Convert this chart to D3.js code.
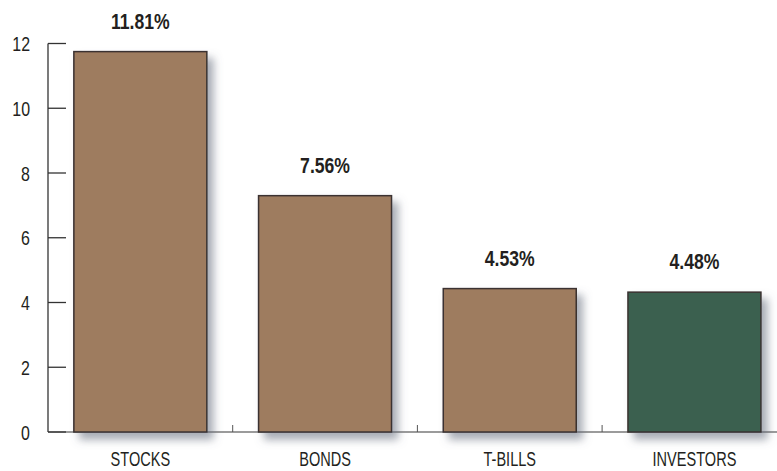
<!DOCTYPE html>
<html>
<head>
<meta charset="utf-8">
<script src="https://cdn.jsdelivr.net/npm/d3@7"></script>
<style>
    body { margin: 0; background: #fff; }
    svg text { font-family: "Liberation Sans", Arial, sans-serif; fill: #231f20; }
    .tickLabel { font-size: 21px; }
    .catLabel { font-size: 20.5px; }
    .valueLabel { font-size: 22px; font-weight: bold; }
</style>
</head>
<body>
<div id="chart"></div>
<script>
const categories = ["STOCKS", "BONDS", "T-BILLS", "INVESTORS"]
// bar heights as drawn in the picture
const barValues = [11.75, 7.30, 4.43, 4.32]
// the printed labels above the bars
const valueLabels = ["11.81%", "7.56%", "4.53%", "4.48%"]
const barColors = ["#9e7b5f", "#9e7b5f", "#9e7b5f", "#3a6150"]
const yTicks = [0, 2, 4, 6, 8, 10, 12]

const width = 777
const height = 471
const margin = { left: 48, top: 43.5, bottom: 39 }

const svg = d3.select("#chart").append("svg")
    .attr("width", width)
    .attr("height", height)

const defs = svg.append("defs")
const filter = defs.append("filter")
    .attr("id", "shadow")
    .attr("x", "-20%").attr("y", "-20%")
    .attr("width", "150%").attr("height", "150%")
filter.append("feDropShadow")
    .attr("dx", 6)
    .attr("dy", 7)
    .attr("stdDeviation", 4)
    .attr("flood-color", "#5e6878")
    .attr("flood-opacity", 0.55)

const y = d3.scaleLinear()
    .domain([0, 12])
    .range([height - margin.bottom, margin.top])

const x = d3.scaleBand()
    .domain(categories)
    .range([margin.left, margin.left + 4 * 184.7])
    .paddingInner(0.28)
    .paddingOuter(0.14)

const y0 = y(0)
const step = x.step()

// narrow text: squeeze horizontally around its anchor point
function condensed(sel, sx) {
    return sel.attr("transform", function () {
        const tx = +this.getAttribute("data-x")
        const ty = +this.getAttribute("data-y")
        return `translate(${tx},${ty}) scale(${sx},1)`
    })
}

// x axis baseline
svg.append("line")
    .attr("x1", margin.left).attr("x2", width)
    .attr("y1", y0).attr("y2", y0)
    .attr("stroke", "#7a7a7a")
    .attr("stroke-width", 1.5)

// small separator ticks between categories
categories.slice(1).forEach((c) => {
    const sx = x(c) - (step - x.bandwidth()) / 2
    svg.append("line")
        .attr("x1", sx).attr("x2", sx)
        .attr("y1", y0).attr("y2", y0 - 7)
        .attr("stroke", "#555")
        .attr("stroke-width", 1)
})

// y axis
const yAxis = svg.append("g")
yAxis.append("line")
    .attr("x1", margin.left).attr("x2", margin.left)
    .attr("y1", y(12)).attr("y2", y0)
    .attr("stroke", "#333")
    .attr("stroke-width", 1.3)
yAxis.selectAll(".tick")
    .data(yTicks)
    .enter()
    .append("line")
    .attr("x1", margin.left).attr("x2", margin.left + 18)
    .attr("y1", d => y(d)).attr("y2", d => y(d))
    .attr("stroke", "#333")
    .attr("stroke-width", 1.3)
yAxis.selectAll(".tickLabel")
    .data(yTicks)
    .enter()
    .append("text")
    .attr("class", "tickLabel")
    .attr("data-x", 30)
    .attr("data-y", d => y(d) + 7.5)
    .attr("text-anchor", "end")
    .text(d => d)
    .call(condensed, 0.76)

// bars
svg.append("g")
    .selectAll("rect")
    .data(barValues)
    .enter()
    .append("rect")
    .attr("x", (d, i) => x(categories[i]))
    .attr("y", d => y(d))
    .attr("width", x.bandwidth())
    .attr("height", d => y0 - y(d))
    .attr("fill", (d, i) => barColors[i])
    .attr("stroke", "#3a3230")
    .attr("stroke-width", 1.5)
    .attr("filter", "url(#shadow)")

// value labels
svg.append("g")
    .selectAll("text")
    .data(barValues)
    .enter()
    .append("text")
    .attr("class", "valueLabel")
    .attr("data-x", (d, i) => x(categories[i]) + x.bandwidth() / 2)
    .attr("data-y", d => y(d) - 23)
    .attr("text-anchor", "middle")
    .text((d, i) => valueLabels[i])
    .call(condensed, 0.8)

// category labels
svg.append("g")
    .selectAll("text")
    .data(categories)
    .enter()
    .append("text")
    .attr("class", "catLabel")
    .attr("data-x", d => x(d) + x.bandwidth() / 2)
    .attr("data-y", 466)
    .attr("text-anchor", "middle")
    .text(d => d)
    .call(condensed, 0.71)
</script>
</body>
</html>
